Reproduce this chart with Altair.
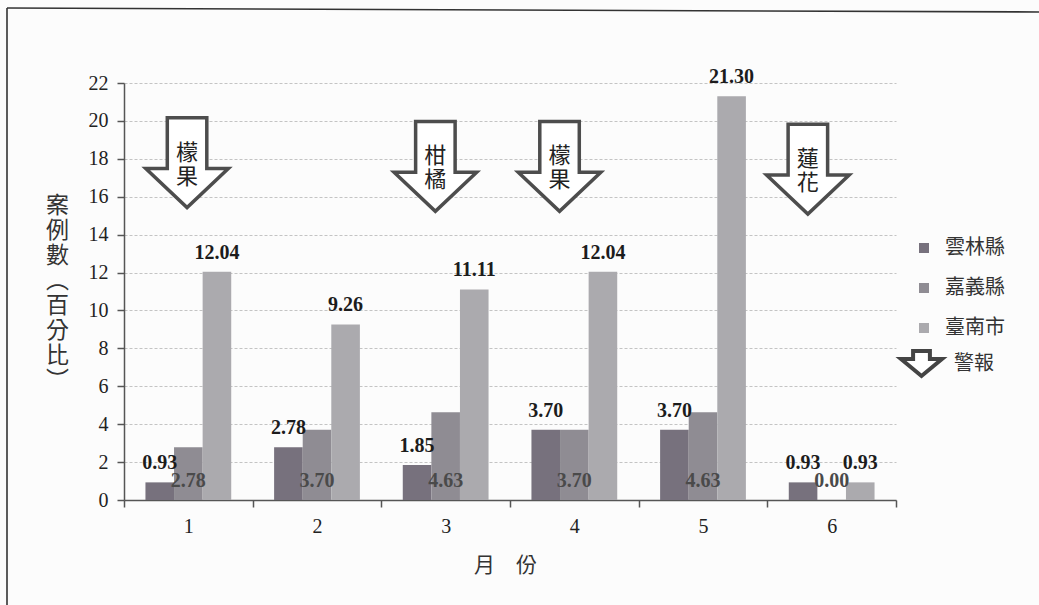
import altair as alt
import pandas as pd

# Monthly share of cases (%) per county
months = [1, 2, 3, 4, 5, 6]
counties = ["雲林縣", "嘉義縣", "臺南市"]
yunlin = [0.93, 2.78, 1.85, 3.70, 3.70, 0.93]
chiayi = [2.78, 3.70, 4.63, 3.70, 4.63, 0.00]
tainan = [12.04, 9.26, 11.11, 12.04, 21.30, 0.93]

# Crop alerts: placement in month units / percent units, and the crop named in each arrow
alert_x = [0.99, 2.92, 3.885, 5.815]
alert_y = [17.8, 17.6, 17.6, 17.45]
alert_crop = ["檬\n果", "柑\n橘", "檬\n果", "蓮\n花"]

y_ticks = list(range(0, 23, 2))
x_ticks = [m / 2 for m in range(1, 14)]  # month boundaries and centres

rows = []
for i, m in enumerate(months):
    for k, vals in enumerate([yunlin, chiayi, tainan]):
        rows.append({"month": m, "county": counties[k], "idx": k, "value": vals[i]})
df = pd.DataFrame(rows)

alerts = pd.DataFrame({"ax": alert_x, "ay": alert_y, "crop": alert_crop})

ARROW = "M-0.44,-1L0.44,-1L0.44,0.13L0.92,0.13L0,1L-0.92,0.13L-0.44,0.13Z"
ARROW_KEY = "M-0.41,-0.61L0.41,-0.61L0.41,-0.22L1,-0.22L0,0.61L-1,-0.22L-0.41,-0.22Z"

SERIF = "Liberation Serif"
CJK = "Noto Sans CJK TC"
AXIS_GRAY = "#555555"

xs = alt.Scale(domain=[0.5, 6.5], nice=False, zero=False)
ys = alt.Scale(domain=[0, 22], nice=False)

x_axis = alt.Axis(
    values=x_ticks,
    labelExpr="datum.value % 1 === 0 ? format(datum.value, 'd') : ''",
    labelFont=SERIF, labelFontSize=20, labelColor="#222222",
    labelPadding=9, labelFlush=False, labelOverlap=False,
    tickSize=7, tickColor=AXIS_GRAY, tickWidth=1.5,
    tickOpacity={"condition": {"test": "datum.value % 1 === 0", "value": 0}, "value": 1},
    domainColor=AXIS_GRAY, domainWidth=1.5,
    grid=False,
    title="月　份", titleFont=CJK, titleFontSize=21, titleFontWeight="normal",
    titleColor="#333333", titleBaseline="middle", titleX=381, titleY=65,
)

y_axis = alt.Axis(
    values=y_ticks,
    labelFont=SERIF, labelFontSize=20, labelColor="#222222", labelPadding=9,
    tickSize=7, tickColor=AXIS_GRAY, tickWidth=1.5,
    domainColor=AXIS_GRAY, domainWidth=1.5,
    grid=True, gridColor="#c4c4c4", gridDash=[3, 2], gridWidth=1,
    title=["案", "例", "數", "︵", "百", "分", "比", "︶"],
    titleFont=CJK, titleFontSize=23, titleFontWeight="normal", titleColor="#333333",
    titleAngle=0, titleAlign="center", titleBaseline="top",
    titleLineHeight=25, titleX=-67, titleY=111,
)

positioned = alt.Chart(df).transform_calculate(
    x0="datum.month - 1/3 + datum.idx * 2/9",
    x1="datum.month - 1/3 + (datum.idx + 1) * 2/9",
    xc="datum.month - 1/3 + (datum.idx + 0.5) * 2/9",
    ly="datum.idx === 1 ? 0 : datum.value",
)

bars = positioned.mark_bar().encode(
    x=alt.X("x0:Q", scale=xs, axis=x_axis),
    x2="x1:Q",
    y=alt.Y("value:Q", scale=ys, axis=y_axis),
    y2=alt.datum(0),
    color=alt.Color(
        "county:N",
        scale=alt.Scale(domain=counties, range=["#77717d", "#8f8c93", "#abaaae"]),
        legend=alt.Legend(
            title=None, orient="none", legendX=790, legendY=155, padding=0,
            symbolType="square", symbolSize=100, symbolStrokeWidth=0,
            labelFont=CJK, labelFontSize=20, labelColor="#333333",
            labelOffset=11, rowPadding=20,
        ),
    ),
)

labels = positioned.mark_text(
    font=SERIF, fontWeight="bold", fontSize=20, baseline="middle", dy=-19
).encode(
    x=alt.X("xc:Q", scale=xs, axis=x_axis),
    y=alt.Y("ly:Q", scale=ys, axis=y_axis),
    text=alt.Text("value:Q", format=".2f"),
    color=alt.condition("datum.idx === 1", alt.value("#4a4a4a"), alt.value("#1c1c1c")),
)

arrows = alt.Chart(alerts).mark_point(
    shape=ARROW, size=8060, filled=True, fill="white", stroke="#4d4d4d",
    strokeWidth=3.5, opacity=1,
).encode(
    x=alt.X("ax:Q", scale=xs, axis=x_axis),
    y=alt.Y("ay:Q", scale=ys, axis=y_axis),
)

arrow_text = alt.Chart(alerts).mark_text(
    lineBreak="\n", font=CJK, fontSize=22, lineHeight=24, baseline="middle",
    dy=-10, color="#222222",
).encode(
    x=alt.X("ax:Q", scale=xs, axis=x_axis),
    y=alt.Y("ay:Q", scale=ys, axis=y_axis),
    text="crop:N",
)

# Legend entry for the alert arrow (no marks of its own; the entry comes from the scale domain)
alert_key = alt.Chart(alerts).transform_filter("false").transform_calculate(
    kind="'警報'"
).mark_point(
    filled=True, fill="white", stroke="#444444", strokeWidth=4, opacity=1,
).encode(
    x=alt.X("ax:Q", scale=xs, axis=x_axis),
    y=alt.Y("ay:Q", scale=ys, axis=y_axis),
    shape=alt.Shape(
        "kind:N",
        scale=alt.Scale(domain=["警報"], range=[ARROW_KEY]),
        legend=alt.Legend(
            title=None, orient="none", legendX=775, legendY=258, padding=0,
            symbolSize=1681, symbolFillColor="white",
            symbolStrokeWidth=4,
            labelFont=CJK, labelFontSize=20, labelColor="#333333", labelOffset=10,
        ),
    ),
)

frame_src = pd.DataFrame({"k": [0]})
frame_left = alt.Chart(frame_src).mark_rule(color="#333333", strokeWidth=1.6).encode(
    x=alt.value(-117), y=alt.value(-75), y2=alt.value(522)
)
frame_top = alt.Chart(frame_src).mark_rule(color="#333333", strokeWidth=1.6).encode(
    x=alt.value(-117), x2=alt.value(915), y=alt.value(-75), y2=alt.value(-71)
)

chart = alt.layer(
    bars, labels, arrows, arrow_text, alert_key, frame_left, frame_top
).properties(
    width=772,
    height=417,
    autosize="none",
    padding={"left": 124, "top": 83, "right": 143, "bottom": 105},
    background="#fcfcfc",
).configure_view(stroke=None)

chart.save("out.html", embed_options={"renderer": "svg", "actions": False})
